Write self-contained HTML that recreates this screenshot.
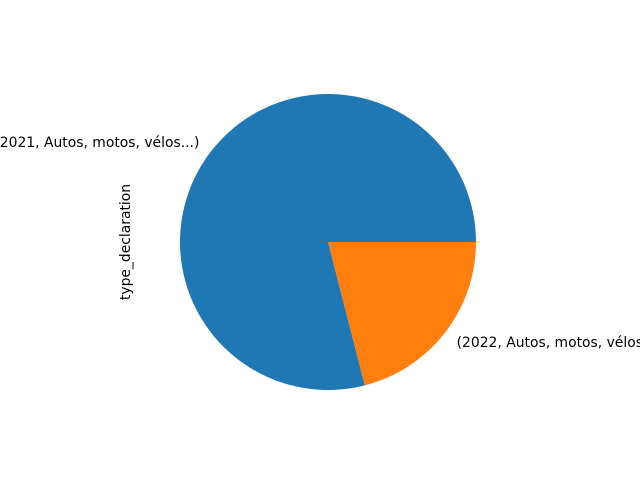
<!DOCTYPE html>
<html><head><meta charset="utf-8"><style>
body{margin:0;background:#fff;overflow:hidden}
svg{display:block}
text{font-family:"DejaVu Sans","Liberation Sans",sans-serif;font-size:13.9px;fill:#000}
</style></head><body>
<svg id="chart" width="640" height="480">
<text transform="translate(130,242) rotate(-90)" text-anchor="middle">type_declaration</text>
<g id="slices"></g>
</svg>
<script>
const categories = ["(2021, Autos, motos, vélos...)", "(2022, Autos, motos, vélos...)"];
const values = [79, 21];
const colors = ["#1f77b4", "#ff7f0e"];
const cx = 328, cy = 242, r = 148;
const svg = document.getElementById('slices');
const NS = 'http://www.w3.org/2000/svg';
const total = values.reduce((a, b) => a + b, 0);
let start = 0;
values.forEach((v, i) => {
  const sweep = v / total * 2 * Math.PI;
  const a0 = start, a1 = start + sweep;
  const x0 = cx + r * Math.cos(a0), y0 = cy - r * Math.sin(a0);
  const x1 = cx + r * Math.cos(a1), y1 = cy - r * Math.sin(a1);
  const large = sweep > Math.PI ? 1 : 0;
  const p = document.createElementNS(NS, 'path');
  p.setAttribute('d', `M${cx},${cy} L${x0},${y0} A${r},${r} 0 ${large} 0 ${x1},${y1} Z`);
  p.setAttribute('fill', colors[i]);
  
  
  svg.appendChild(p);
  const mid = (a0 + a1) / 2;
  const lx = cx + 1.1 * r * Math.cos(mid), ly = cy - 1.1 * r * Math.sin(mid);
  const t = document.createElementNS(NS, 'text');
  t.setAttribute('x', lx);
  t.setAttribute('y', ly + 5);
  t.setAttribute('text-anchor', Math.cos(mid) < 0 ? 'end' : 'start');
  t.textContent = categories[i];
  
  
  svg.appendChild(t);
  start = a1;
});
</script>
</body></html>
